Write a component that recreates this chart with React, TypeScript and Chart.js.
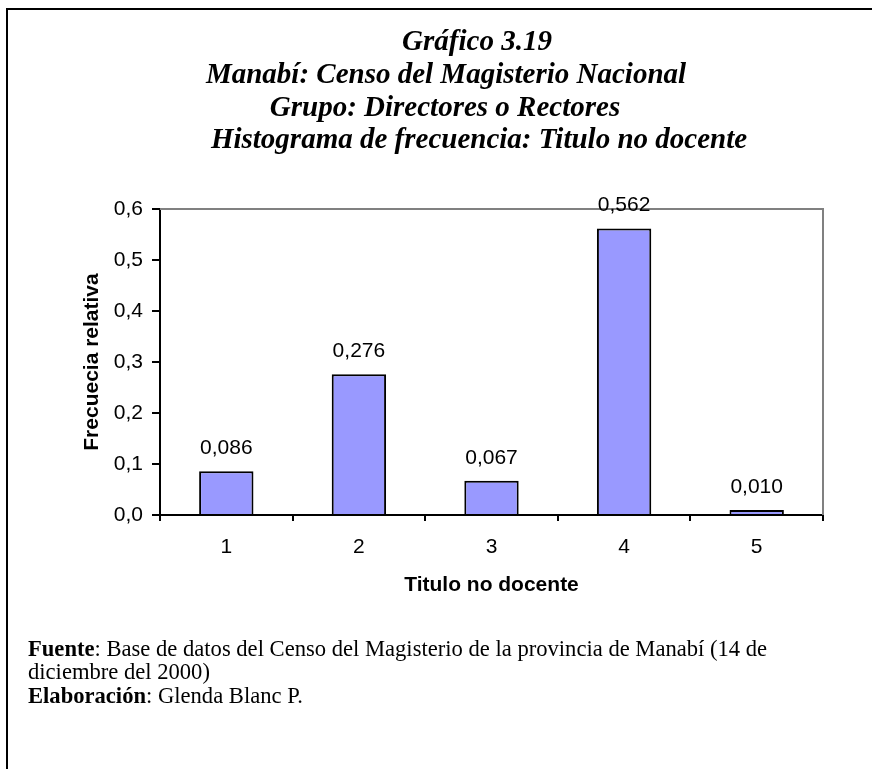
import React, { useEffect, useRef } from "react";
import { Chart, registerables } from "chart.js";

Chart.register(...registerables);

const categories = ["1", "2", "3", "4", "5"];
const frequencies = [0.086, 0.276, 0.067, 0.562, 0.01];
const yTickValues = [0, 0.1, 0.2, 0.3, 0.4, 0.5, 0.6];

const titleLines = [
  "Gráfico 3.19",
  "Manabí: Censo del Magisterio Nacional",
  "Grupo: Directores o Rectores",
  "Histograma de frecuencia: Titulo no docente",
];
const yAxisTitle = "Frecuecia relativa";
const xAxisTitle = "Titulo no docente";

const SANS = '"Liberation Sans", Arial, Helvetica, sans-serif';
const SERIF = '"Liberation Serif", "Times New Roman", Times, serif';

const fmt = (v: number, d: number) => v.toFixed(d).replace(".", ",");

const frameLinesPlugin = {
  id: "frameLines",
  beforeDatasetsDraw(chart: any) {
    const { ctx, chartArea } = chart;
    ctx.save();
    ctx.strokeStyle = "#808080";
    ctx.lineWidth = 2;
    ctx.beginPath();
    ctx.moveTo(chartArea.left, chartArea.top);
    ctx.lineTo(chartArea.right, chartArea.top);
    ctx.lineTo(chartArea.right, chartArea.bottom);
    ctx.stroke();
    ctx.restore();
  },
};

const valueLabelsPlugin = {
  id: "valueLabels",
  afterDatasetsDraw(chart: any) {
    const { ctx } = chart;
    const meta = chart.getDatasetMeta(0);
    const data = chart.data.datasets[0].data as number[];
    ctx.save();
    ctx.font = `21px ${SANS}`;
    ctx.fillStyle = "#000";
    ctx.textAlign = "center";
    ctx.textBaseline = "middle";
    meta.data.forEach((bar: any, i: number) => {
      ctx.fillText(fmt(data[i], 3), bar.x, bar.y - 23);
    });
    ctx.restore();
  },
};

function BarChart() {
  const ref = useRef<HTMLCanvasElement | null>(null);
  useEffect(() => {
    if (!ref.current) return;
    const chart = new Chart(ref.current, {
      type: "bar",
      data: {
        labels: categories,
        datasets: [
          {
            data: frequencies,
            backgroundColor: "#9999FF",
            borderColor: "#000000",
            borderWidth: 2,
            barPercentage: 0.41,
            categoryPercentage: 1.0,
          },
        ],
      },
      options: {
        responsive: false,
        animation: false,
        devicePixelRatio: 1,
        layout: { padding: { left: 0, right: 49, top: 209, bottom: 164 } },
        plugins: { legend: { display: false }, tooltip: { enabled: false }, title: { display: false } },
        scales: {
          x: {
            type: "category",
            offset: true,
            grid: { offset: true, drawOnChartArea: false, drawTicks: true, tickLength: 6, color: "#000", lineWidth: 2 },
            border: { display: true, color: "#000", width: 2 },
            ticks: { font: { family: SANS, size: 21 }, color: "#000", padding: 14 },
            title: {
              display: true,
              text: xAxisTitle,
              font: { family: SANS, size: 21, weight: "bold" },
              color: "#000",
              padding: { top: 0, bottom: 7 },
            },
            afterFit: (s: any) => {
              s.height = 90;
            },
          },
          y: {
            min: 0,
            max: 0.6,
            afterBuildTicks: (s: any) => {
              s.ticks = yTickValues.map((v) => ({ value: v }));
            },
            grid: { drawOnChartArea: false, drawTicks: true, tickLength: 8, color: "#000", lineWidth: 2 },
            border: { display: true, color: "#000", width: 2 },
            ticks: {
              font: { family: SANS, size: 21 },
              color: "#000",
              padding: 9,
              callback: (v: any) => fmt(Number(v), 1),
            },
            title: {
              display: true,
              text: yAxisTitle,
              font: { family: SANS, size: 21, weight: "bold" },
              color: "#000",
              padding: { top: 80, bottom: 0 },
            },
            afterFit: (s: any) => {
              s.width = 160;
            },
          },
        },
      },
      plugins: [frameLinesPlugin, valueLabelsPlugin],
    } as any);
    return () => chart.destroy();
  }, []);
  return (
    <canvas
      ref={ref}
      width={872}
      height={769}
      style={{ position: "absolute", left: 0, top: 0, width: 872, height: 769 }}
    />
  );
}

const titleCenters = [477, 446, 445, 479];
const titleBaselines = [50, 83, 116, 148];

export default function App() {
  const titleSize = 29;
  const noteSize = 22.6;
  return (
    <div
      style={{
        position: "absolute",
        left: 0,
        top: 0,
        width: 872,
        height: 769,
        background: "#fff",
        overflow: "hidden",
      }}
    >
      <div
        style={{
          position: "absolute",
          left: 6,
          top: 8,
          width: 866,
          height: 761,
          borderTop: "2px solid #000",
          borderLeft: "2px solid #000",
          boxSizing: "border-box",
        }}
      />
      <BarChart />
      {titleLines.map((t, i) => (
        <div
          key={i}
          style={{
            position: "absolute",
            left: titleCenters[i],
            top: titleBaselines[i] - titleSize * 0.84,
            transform: "translateX(-50%)",
            whiteSpace: "nowrap",
            fontFamily: SERIF,
            fontStyle: "italic",
            fontWeight: "bold",
            fontSize: titleSize,
            lineHeight: 1,
            color: "#000",
          }}
        >
          {t}
        </div>
      ))}
      <div
        style={{
          position: "absolute",
          left: 28,
          top: 656 - 23.5 * 0.5 - noteSize * 0.34,
          fontFamily: SERIF,
          fontSize: noteSize,
          lineHeight: "23.5px",
          color: "#000",
          whiteSpace: "nowrap",
        }}
      >
        <div>
          <b>Fuente</b>: Base de datos del Censo del Magisterio de la provincia de Manabí (14 de
        </div>
        <div>diciembre del 2000)</div>
        <div>
          <b>Elaboración</b>: Glenda Blanc P.
        </div>
      </div>
    </div>
  );
}
